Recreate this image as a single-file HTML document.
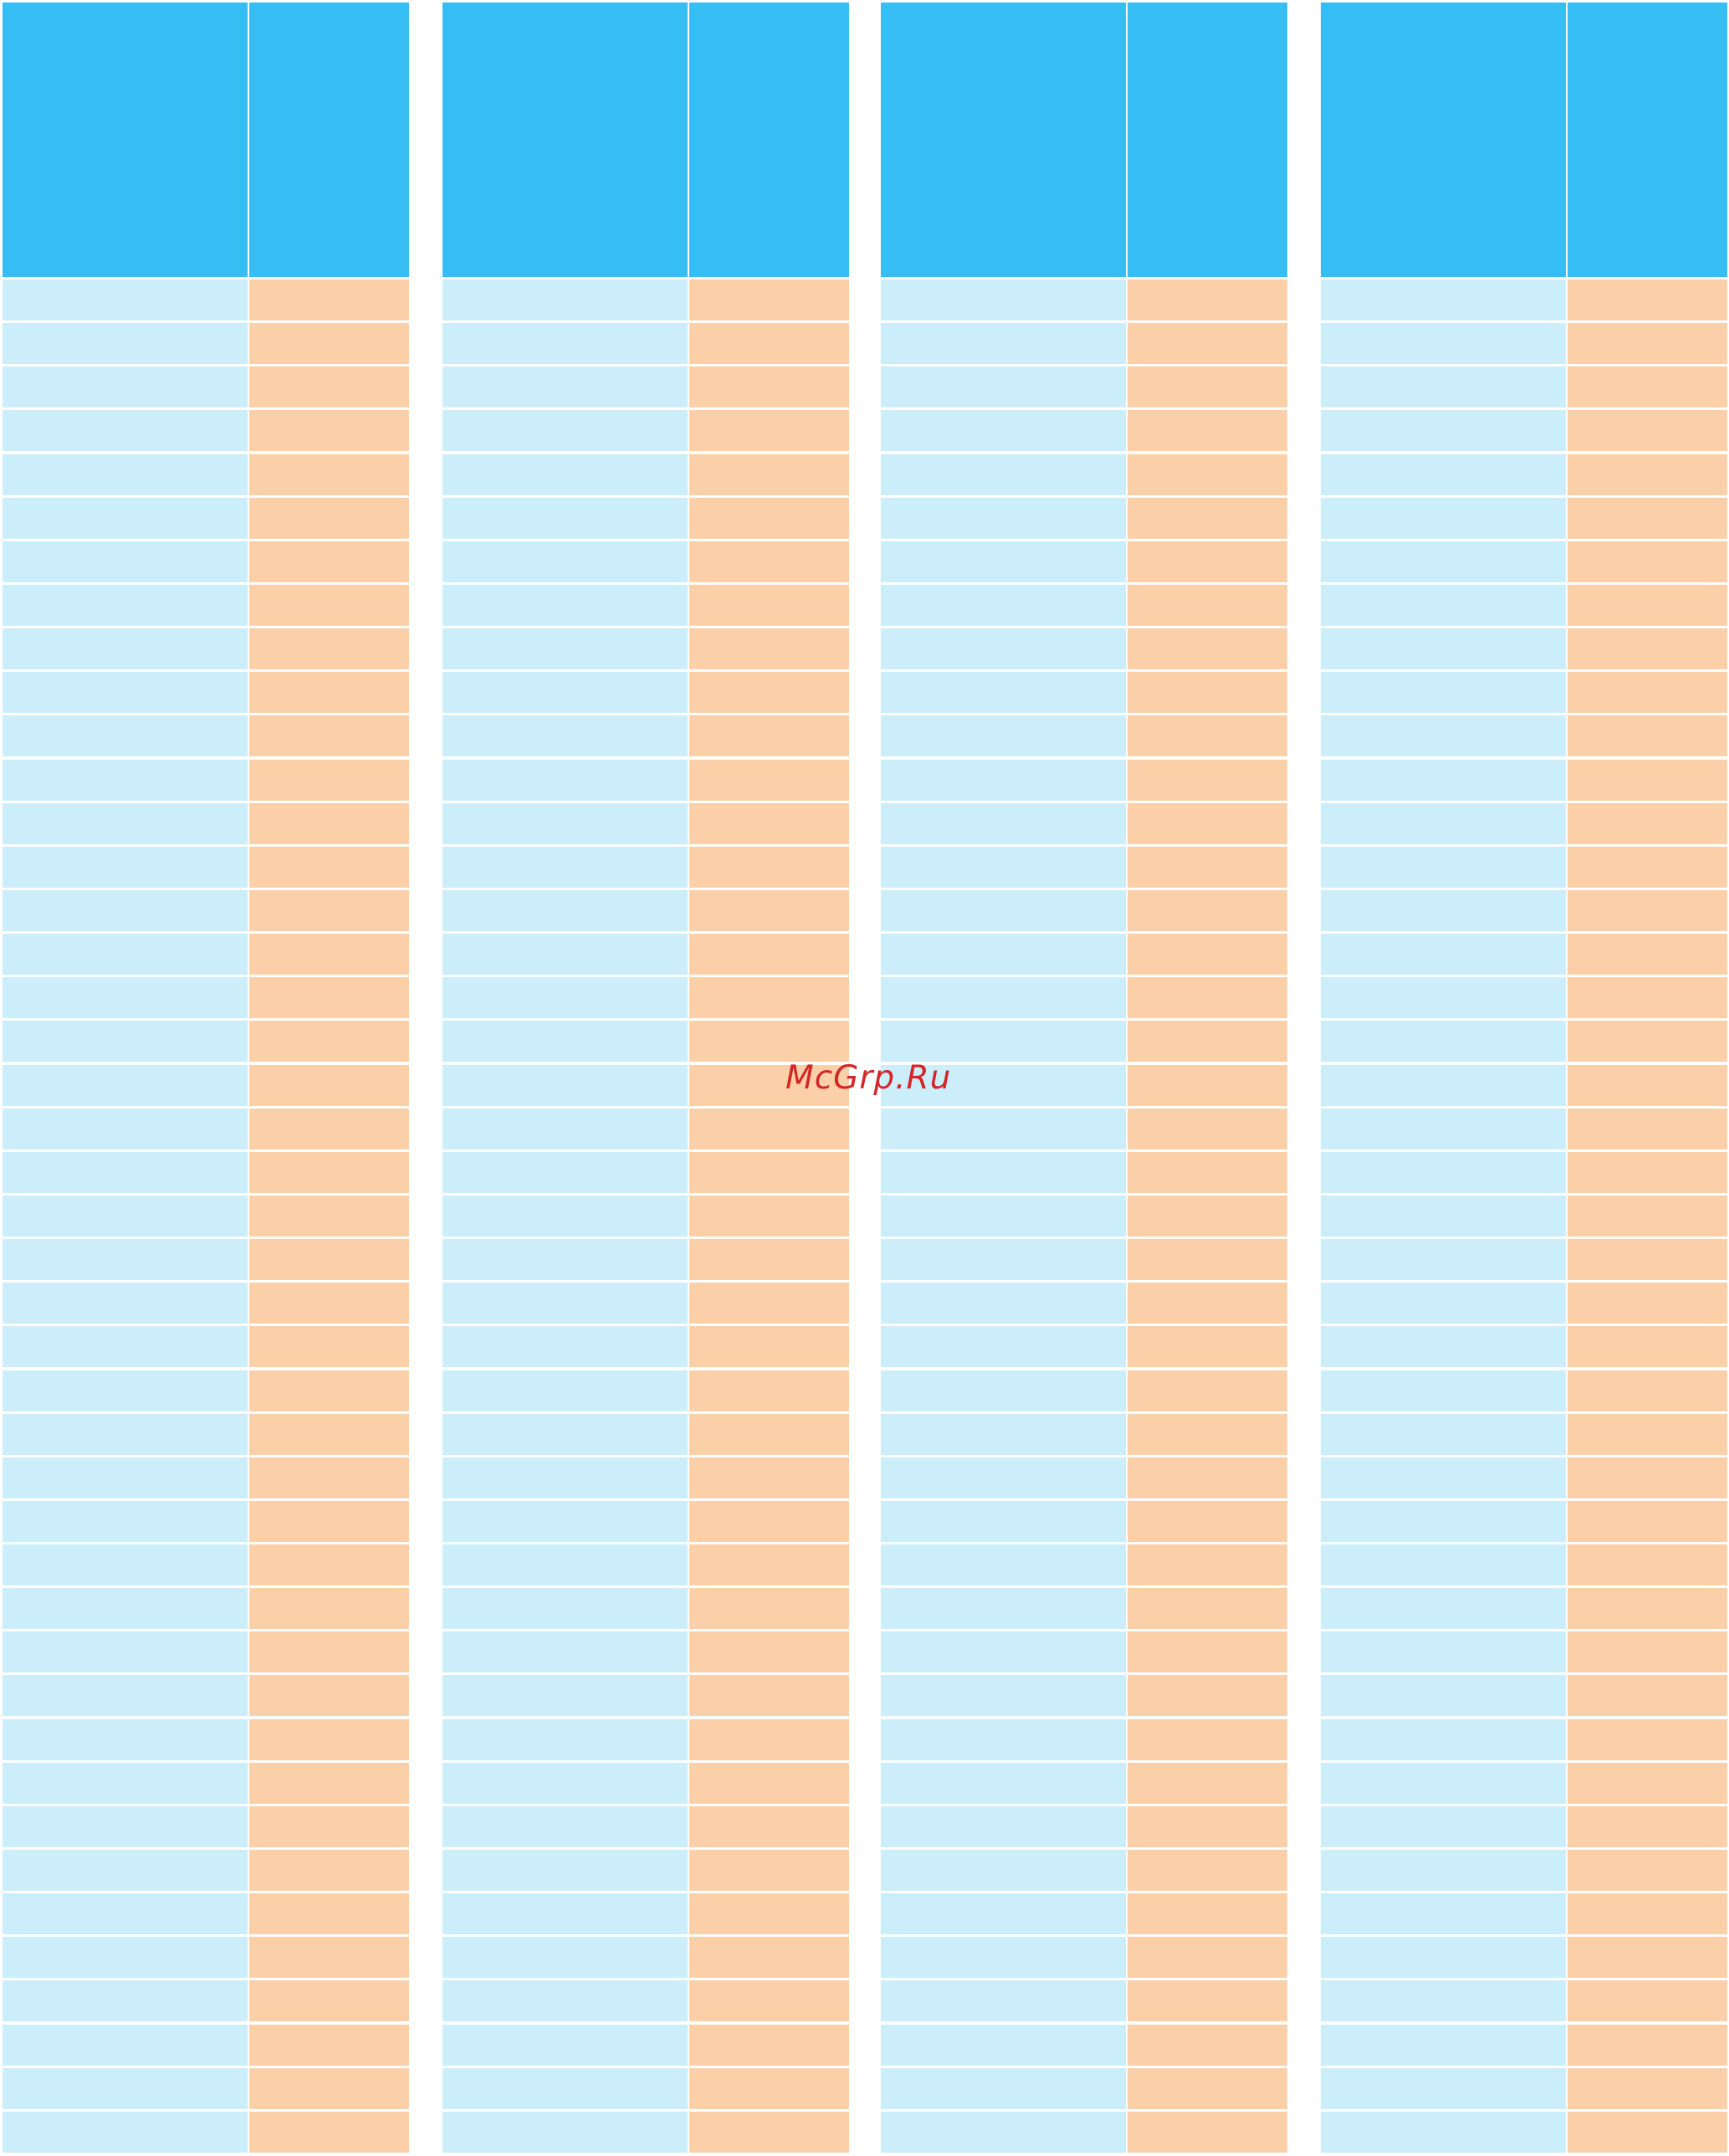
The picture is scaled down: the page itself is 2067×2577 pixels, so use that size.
<!DOCTYPE html>
<html><head><meta charset="utf-8"><style>
html,body{margin:0;padding:0;background:#fff;}
#root{position:relative;width:2067px;height:2577px;overflow:hidden;background:#fff;}
.c{position:absolute;}
.h{background:#36bdf3;}
.l{background:#cbeefa;}
.r{background:#fbd0a9;}
#wm{position:absolute;left:939px;top:1266px;font-family:"DejaVu Sans",sans-serif;font-style:italic;font-size:39px;color:#d42628;letter-spacing:1px;white-space:nowrap;}
</style></head><body>
<div id="root">
<div id="wm">McGrp.Ru</div>
</div>
<script>
const tableStarts = [3, 529, 1053, 1579];
const rowCount = 43;
const root = document.getElementById('root');
const leftW = 293, gap = 2, rightW = 191;
const headTop = 3, headBottom = 331, rowTop = 334, pitch = 52.14, rowH = 49;
function cell(cls, x, y, w, h, name) {
  const d = document.createElement('div');
  d.className = 'c ' + cls;
  d.style.left = x + 'px'; d.style.top = y + 'px';
  d.style.width = w + 'px'; d.style.height = h + 'px';
  
  
  root.insertBefore(d, document.getElementById('wm'));
}
tableStarts.forEach((x, t) => {
  cell('h', x, headTop, leftW, headBottom - headTop, 'header-cell-left-t' + (t + 1));
  cell('h', x + leftW + gap, headTop, rightW, headBottom - headTop, 'header-cell-right-t' + (t + 1));
  for (let i = 0; i < rowCount; i++) {
    const y = Math.round(rowTop + i * pitch);
    cell('l', x, y, leftW, rowH, 'row-cell-left');
    cell('r', x + leftW + gap, y, rightW, rowH, 'row-cell-right');
  }
});
</script>
</body></html>
